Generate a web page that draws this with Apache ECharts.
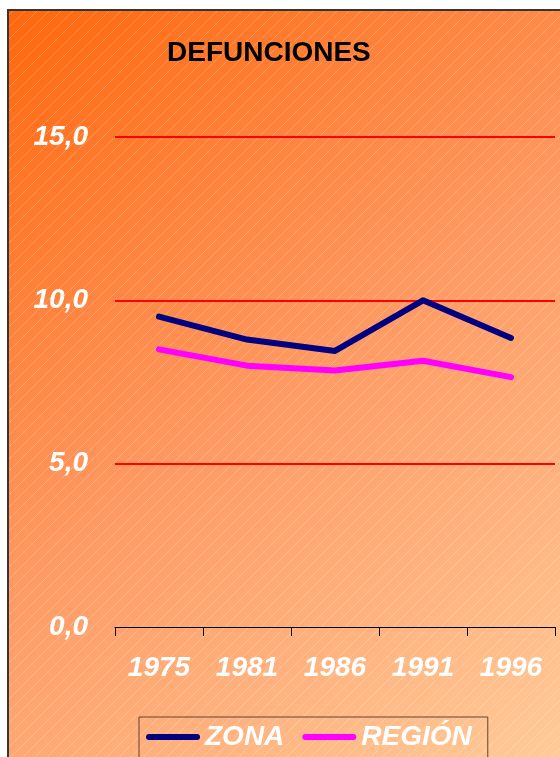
<!DOCTYPE html>
<html>
<head>
<meta charset="utf-8">
<script src="https://cdn.jsdelivr.net/npm/echarts@6/dist/echarts.min.js"></script>
<style>
html,body{margin:0;padding:0;background:#fff;}
#chart{width:560px;height:757px;}
</style>
</head>
<body>
<div id="chart"></div>
<script>
var categories = ['1975', '1981', '1986', '1991', '1996'];
var zonaValues = [9.5, 8.8, 8.45, 10.0, 8.85];
var regionValues = [8.5, 8.0, 7.85, 8.15, 7.65];
var yTickLabels = { 0: '0,0', 5: '5,0', 10: '10,0', 15: '15,0' };

var FONT = '"Liberation Sans", Arial, sans-serif';

// hatch pattern
var pc = document.createElement('canvas');
pc.width = 12; pc.height = 12;
var ctx = pc.getContext('2d');
ctx.strokeStyle = 'rgba(255,255,255,0.22)';
ctx.lineWidth = 1;
ctx.beginPath();
ctx.moveTo(-1, 13); ctx.lineTo(13, -1);
ctx.stroke();

var chart = echarts.init(document.getElementById('chart'));
chart.setOption({
  backgroundColor: '#ffffff',
  animation: false,
  graphic: [
    {
      type: 'rect', z: -20, silent: true,
      shape: { x: 9, y: 11, width: 560, height: 760 },
      style: {
        fill: {
          type: 'linear', x: 0, y: 0, x2: 1, y2: 1,
          colorStops: [
            { offset: 0, color: '#ff670c' },
            { offset: 0.5, color: '#ff9a64' },
            { offset: 1, color: '#ffcc9a' }
          ]
        }
      }
    },
    {
      type: 'rect', z: -19, silent: true,
      shape: { x: 9, y: 11, width: 560, height: 760 },
      style: { fill: { image: pc, repeat: 'repeat' } }
    },
    {
      type: 'rect', z: -18, silent: true,
      shape: { x: 8, y: 10, width: 600, height: 800 },
      style: { fill: 'none', stroke: '#3a3430', lineWidth: 2 }
    }
  ],
  title: {
    text: 'DEFUNCIONES',
    left: 167, top: 39, padding: 0,
    textStyle: { fontFamily: FONT, fontSize: 28, fontWeight: 'bold', color: '#000' }
  },
  legend: {
    left: 139, top: 717,
    padding: [6, 16, 30, 7],
    borderColor: '#5a4632', borderWidth: 1,
    itemWidth: 54, itemHeight: 6, itemGap: 18,
    icon: 'path://M3,0 H51 A3,3 0 0 1 51,6 H3 A3,3 0 0 1 3,0 Z',
    textStyle: { fontFamily: FONT, fontSize: 28, fontWeight: 'bold', fontStyle: 'italic', color: '#fff' },
    data: ['ZONA', 'REGIÓN']
  },
  grid: { left: 115, right: 5, top: 137, bottom: 130, containLabel: false },
  xAxis: {
    type: 'category', data: categories, boundaryGap: true,
    axisLine: { lineStyle: { color: '#000', width: 1 } },
    axisTick: { show: true, length: 9, lineStyle: { color: '#000' } },
    axisLabel: { margin: 27, color: '#fff', fontFamily: FONT, fontSize: 28, fontWeight: 'bold', fontStyle: 'italic' },
    splitLine: { show: false }
  },
  yAxis: {
    type: 'value', min: 0, max: 15, interval: 5,
    axisLine: { show: false }, axisTick: { show: false },
    axisLabel: {
      margin: 27, color: '#fff', fontFamily: FONT, fontSize: 28, fontWeight: 'bold', fontStyle: 'italic',
      formatter: function (v) { return yTickLabels[v] !== undefined ? yTickLabels[v] : ''; }
    },
    splitLine: { show: true, showMinLine: false, lineStyle: { color: '#ff0000', width: 2 } }
  },
  series: [
    { name: 'ZONA', type: 'line', data: zonaValues, symbol: 'none', color: '#000080',
      lineStyle: { width: 6, color: '#000080', cap: 'round', join: 'round' } },
    { name: 'REGIÓN', type: 'line', data: regionValues, symbol: 'none', color: '#ff00ff',
      lineStyle: { width: 6, color: '#ff00ff', cap: 'round', join: 'round' } }
  ]
});
</script>
</body>
</html>
